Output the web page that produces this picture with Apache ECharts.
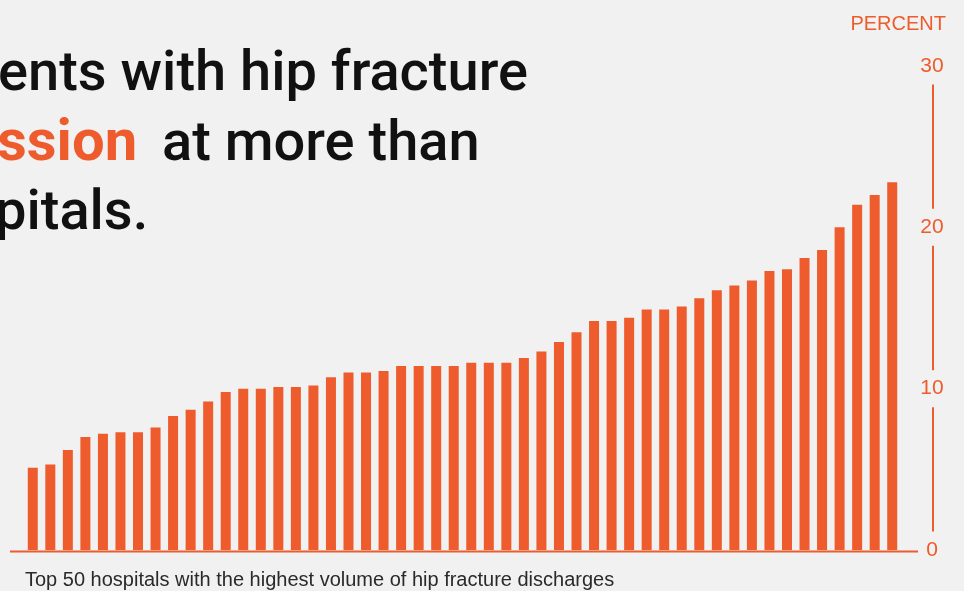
<!DOCTYPE html>
<html>
<head>
<meta charset="utf-8">
<title>Hip fracture readmissions</title>
<script src="https://cdn.jsdelivr.net/npm/echarts@6/dist/echarts.min.js"></script>
<style>
  html, body { margin: 0; padding: 0; background: #f1f1f1; }
  #chart { width: 964px; height: 591px; }
</style>
</head>
<body>
<div id="chart"></div>
<script>
// top 50 hospitals, sorted by readmission rate
var hospitals = [];
for (var i = 1; i <= 50; i++) hospitals.push('Hospital ' + i);

// percent readmitted
var readmitRate = [
  5.1, 5.3, 6.2, 7.0, 7.2, 7.3, 7.3, 7.6, 8.3, 8.7,
  9.2, 9.8, 10.0, 10.0, 10.1, 10.1, 10.2, 10.7, 11.0, 11.0,
  11.1, 11.4, 11.4, 11.4, 11.4, 11.6, 11.6, 11.6, 11.9, 12.3,
  12.9, 13.5, 14.2, 14.2, 14.4, 14.9, 14.9, 15.1, 15.6, 16.1,
  16.4, 16.7, 17.3, 17.4, 18.1, 18.6, 20.0, 21.4, 22.0, 22.8
];

var yTicks = { min: 0, max: 30, step: 10 };

var orange = '#ee5b2c';
var bg = '#f1f1f1';
var headFont = '500 56px Roboto';

var chart = echarts.init(document.getElementById('chart'), null, { renderer: 'canvas' });

var option = {
  backgroundColor: bg,
  animation: false,
  grid: { left: 24, right: 63, top: 66, bottom: 41 },
  xAxis: {
    type: 'category',
    data: hospitals,
    show: false
  },
  yAxis: {
    type: 'value',
    position: 'right',
    offset: 32,
    min: yTicks.min,
    max: yTicks.max,
    interval: yTicks.step,
    axisLine: { show: true, lineStyle: { color: orange, width: 2 } },
    axisTick: { show: false },
    splitLine: { show: false },
    axisLabel: {
      margin: -1,
      align: 'center',
      color: orange,
      fontSize: 21,
      fontFamily: 'Liberation Sans',
      backgroundColor: bg,
      padding: [8, 5]
    }
  },
  series: [{
    type: 'bar',
    data: readmitRate,
    barWidth: 10,
    itemStyle: { color: orange }
  }],
  graphic: [
    // headline, cropped on the left like the source
    {
      type: 'text', left: -2, top: 48,
      style: { text: 'ents with hip fracture', font: headFont, fill: '#111' }
    },
    {
      type: 'text', x: -3, y: 116,
      style: { text: 'ssion', font: '700 58px Roboto', fill: orange }
    },
    {
      type: 'text', x: 162, y: 118,
      style: { text: 'at more than', font: headFont, fill: '#111' }
    },
    {
      type: 'text', left: -5, top: 187,
      style: { text: 'pitals.', font: headFont, fill: '#111' }
    },
    {
      type: 'text', right: 18, top: 14,
      style: { text: 'PERCENT', font: '20px "Liberation Sans"', fill: orange }
    },
    {
      type: 'text', left: 25, top: 570,
      style: { text: 'Top 50 hospitals with the highest volume of hip fracture discharges', font: '20px "Liberation Sans"', fill: '#2a2a2a' }
    },
    // baseline
    {
      type: 'line',
      shape: { x1: 10, y1: 551.5, x2: 918, y2: 551.5 },
      style: { stroke: orange, lineWidth: 2 }
    }
  ]
};

chart.setOption(option);
</script>
</body>
</html>
